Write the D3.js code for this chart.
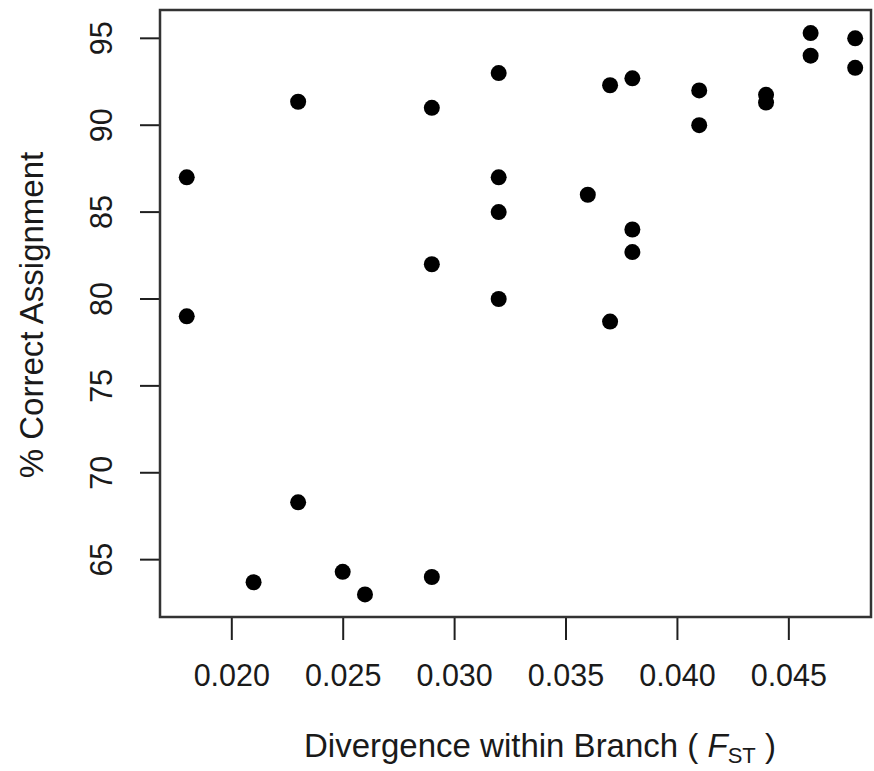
<!DOCTYPE html>
<html>
<head>
<meta charset="utf-8">
<script src="https://cdn.jsdelivr.net/npm/d3@7"></script>
<style>
  html, body { margin: 0; padding: 0; background: #fff; }
  svg { display: block; }
  text { font-family: "Liberation Sans", Arial, Helvetica, sans-serif; fill: #1a1a1a; }
</style>
</head>
<body>
<svg id="chart" width="874" height="771"></svg>
<script>
// Divergence within branch (FST) for each population set
const fst = [
  0.018, 0.018,
  0.021,
  0.023, 0.023,
  0.025,
  0.026,
  0.029, 0.029, 0.029,
  0.032, 0.032, 0.032, 0.032,
  0.036,
  0.037, 0.037,
  0.038, 0.038, 0.038,
  0.041, 0.041,
  0.044, 0.044,
  0.046, 0.046,
  0.048, 0.048
];
// Percentage of individuals correctly assigned
const pctCorrect = [
  87.0, 79.0,
  63.7,
  91.35, 68.3,
  64.3,
  63.0,
  91.0, 82.0, 64.0,
  93.0, 87.0, 85.0, 80.0,
  86.0,
  92.3, 78.7,
  92.7, 84.0, 82.7,
  92.0, 90.0,
  91.75, 91.3,
  95.3, 94.0,
  95.0, 93.3
];
const xTicks = [0.020, 0.025, 0.030, 0.035, 0.040, 0.045];
const yTicks = [65, 70, 75, 80, 85, 90, 95];

const svg = d3.select("#chart");
const plot = { left: 160, right: 871, top: 10, bottom: 617 };

const x = d3.scaleLinear().domain([0.0168, 0.04871]).range([plot.left, plot.right]);
const y = d3.scaleLinear().domain([61.7, 96.63]).range([plot.bottom, plot.top]);

const ink = "#1f1f1f";

// x axis
const xAxis = svg.append("g")
  .attr("transform", `translate(0,${plot.bottom})`)
  .call(d3.axisBottom(x).tickValues(xTicks).tickFormat(d3.format(".3f")).tickSize(23).tickPadding(24));
xAxis.select(".domain").remove();
xAxis.selectAll("line").attr("stroke", ink).attr("stroke-width", 2);
xAxis.selectAll("text").attr("font-size", 30.5).attr("fill", ink).style("font-family", "'Liberation Sans', Arial, sans-serif");

// y axis with labels parallel to the axis
const yAxis = svg.append("g")
  .attr("transform", `translate(${plot.left},0)`)
  .call(d3.axisLeft(y).tickValues(yTicks).tickSize(20).tickPadding(0));
yAxis.select(".domain").remove();
yAxis.selectAll("line").attr("stroke", ink).attr("stroke-width", 2);
yAxis.selectAll(".tick").attr("transform", null);
yAxis.selectAll(".tick line").attr("transform", d => `translate(0,${y(d)})`);
yAxis.selectAll("text")
  .attr("font-size", 30.5)
  .attr("fill", ink)
  .style("font-family", "'Liberation Sans', Arial, sans-serif")
  .attr("text-anchor", "middle")
  .attr("dy", null)
  .attr("x", null)
  .attr("y", 0)
  .attr("dominant-baseline", "central")
  .attr("transform", d => `translate(${101 - plot.left},${y(d)}) rotate(-90)`);

// plot frame
svg.append("rect")
  .attr("x", plot.left).attr("y", plot.top)
  .attr("width", plot.right - plot.left).attr("height", plot.bottom - plot.top)
  .attr("fill", "none").attr("stroke", "#333").attr("stroke-width", 2.5);

// points
svg.append("g").selectAll("circle")
  .data(fst.map((f, i) => ({ f, p: pctCorrect[i] })))
  .join("circle")
  .attr("cx", d => x(d.f))
  .attr("cy", d => y(d.p))
  .attr("r", 8)
  .attr("fill", "#000");

// axis titles
const xTitle = svg.append("text")
  .attr("x", 540).attr("y", 757)
  .attr("text-anchor", "middle")
  .attr("font-size", 33);
xTitle.append("tspan").text("Divergence within Branch ( ");
xTitle.append("tspan").attr("font-style", "italic").text("F");
xTitle.append("tspan").attr("font-size", 22).attr("dy", 6).text("ST");
xTitle.append("tspan").attr("dy", -6).text(" )");

svg.append("text")
  .attr("transform", "translate(43,315) rotate(-90)")
  .attr("text-anchor", "middle")
  .attr("font-size", 33)
  .text("% Correct Assignment");
</script>
</body>
</html>
